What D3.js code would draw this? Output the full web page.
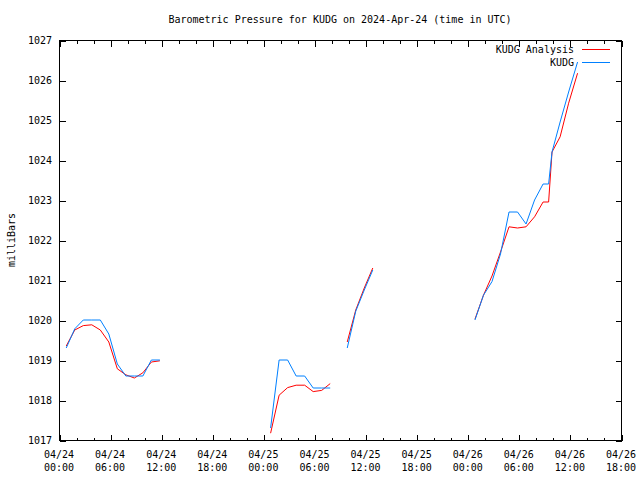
<!DOCTYPE html>
<html>
<head>
<meta charset="utf-8">
<script src="https://cdn.jsdelivr.net/npm/d3@7"></script>
<style>
html,body{margin:0;padding:0;background:#fff;}
svg text{font-family:"DejaVu Sans Mono",monospace;font-size:10px;fill:#000;}
</style>
</head>
<body>
<svg id="chart" width="640" height="480"></svg>
<script>
// Hours since 2024-04-24 00:00 UTC (null values mark data gaps)
const hours = [0.85,1.85,2.85,3.85,4.85,5.85,6.85,7.85,8.85,9.85,10.85,11.85,
  18,
  24.85,25.85,26.85,27.85,28.85,29.85,30.85,31.85,
  32.85,
  33.85,34.85,35.85,36.85,
  42,
  48.85,49.85,50.85,51.85,52.85,53.85,54.85,55.85,56.85,57.5,57.9,58.85,59.85,60.9];
const analysis = [1019.35,1019.75,1019.86,1019.88,1019.75,1019.45,1018.78,1018.63,1018.55,1018.68,1018.95,1018.98,
  null,
  1017.17,1018.12,1018.31,1018.37,1018.37,1018.21,1018.24,1018.41,
  null,
  1019.45,1020.25,1020.8,1021.3,
  null,
  1020.02,1020.62,1021.1,1021.7,1022.33,1022.3,1022.33,1022.58,1022.95,1022.95,1024.2,1024.58,1025.42,1026.17];
const observed = [1019.3,1019.78,1020.0,1020.0,1020.0,1019.65,1018.9,1018.6,1018.6,1018.6,1019.0,1019.0,
  null,
  1017.3,1019.0,1019.0,1018.6,1018.6,1018.3,1018.3,1018.3,
  null,
  1019.3,1020.22,1020.75,1021.25,
  null,
  1020.0,1020.62,1020.96,1021.65,1022.7,1022.7,1022.4,1023.0,1023.4,1023.4,1024.2,1024.95,1025.7,1026.45];
const seriesNames = ["KUDG Analysis","KUDG"];
const seriesColors = ["#ff0000","#0080ff"];
const xTickDates = ["04/24","04/24","04/24","04/24","04/25","04/25","04/25","04/25","04/26","04/26","04/26","04/26"];
const xTickTimes = ["00:00","06:00","12:00","18:00","00:00","06:00","12:00","18:00","00:00","06:00","12:00","18:00"];
const yTicks = [1017,1018,1019,1020,1021,1022,1023,1024,1025,1026,1027];
const title = "Barometric Pressure for KUDG on 2024-Apr-24 (time in UTC)";
const yLabel = "milliBars";

const svg = d3.select("#chart");
const L = 59, R = 621, T = 40, B = 440;
const x = d3.scaleLinear().domain([0,66]).range([L,R]);
const y = d3.scaleLinear().domain([1017,1027]).range([B,T]);

const majorX = d3.range(0,67,6);
const minorX = d3.range(0,67,2).filter(v=>v%6!==0);

function styleAxis(g){
  g.select(".domain").remove();
  g.selectAll("line").attr("stroke","#000").attr("shape-rendering","crispEdges");
  g.selectAll("text").remove();
}
// bottom
svg.append("g").attr("transform",`translate(0.5,${B+0.5})`)
  .call(d3.axisBottom(x).tickValues(majorX).tickSize(-6).tickFormat("")).call(styleAxis);
svg.append("g").attr("transform",`translate(0.5,${B+0.5})`)
  .call(d3.axisBottom(x).tickValues(minorX).tickSize(-3).tickFormat("")).call(styleAxis);
// top
svg.append("g").attr("transform",`translate(0.5,${T+0.5})`)
  .call(d3.axisTop(x).tickValues(majorX).tickSize(-6).tickFormat("")).call(styleAxis);
svg.append("g").attr("transform",`translate(0.5,${T+0.5})`)
  .call(d3.axisTop(x).tickValues(minorX).tickSize(-3).tickFormat("")).call(styleAxis);
// left/right
svg.append("g").attr("transform",`translate(${L+0.5},0.5)`)
  .call(d3.axisLeft(y).tickValues(yTicks).tickSize(-6).tickFormat("")).call(styleAxis);
svg.append("g").attr("transform",`translate(${R+0.5},0.5)`)
  .call(d3.axisRight(y).tickValues(yTicks).tickSize(-6).tickFormat("")).call(styleAxis);

// frame
svg.append("rect").attr("x",L+0.5).attr("y",T+0.5).attr("width",R-L).attr("height",B-T)
  .attr("fill","none").attr("stroke","#000").attr("shape-rendering","crispEdges");

// y tick labels
svg.selectAll("text.ylab").data(yTicks).enter().append("text")
  .attr("x",L-7).attr("y",d=>y(d)+4).attr("text-anchor","end").text(d=>d);

// x tick labels
majorX.forEach((h,i)=>{
  svg.append("text").attr("x",x(h)).attr("y",458).attr("text-anchor","middle").text(xTickDates[i]);
  svg.append("text").attr("x",x(h)).attr("y",471).attr("text-anchor","middle").text(xTickTimes[i]);
});

// title & axis label
svg.append("text").attr("x",340).attr("y",23).attr("text-anchor","middle").text(title);
svg.append("text").attr("transform","translate(15,240) rotate(-90)").attr("text-anchor","middle").text(yLabel);

// lines
const series = [analysis, observed];
series.forEach((vals,si)=>{
  const pts = hours.map((h,i)=>[h,vals[i]]);
  const line = d3.line().defined(d=>d[1]!==null).x(d=>x(d[0])).y(d=>y(d[1]));
  svg.append("path").datum(pts).attr("d",line).attr("fill","none")
    .attr("stroke",seriesColors[si]).attr("stroke-width",1);
});

// legend
seriesNames.forEach((n,i)=>{
  const ly = 49 + i*13;
  svg.append("text").attr("x",574).attr("y",ly+4).attr("text-anchor","end").text(n);
  svg.append("line").attr("x1",582).attr("x2",610).attr("y1",ly+0.5).attr("y2",ly+0.5)
    .attr("stroke",seriesColors[i]).attr("shape-rendering","crispEdges");
});
</script>
</body>
</html>
